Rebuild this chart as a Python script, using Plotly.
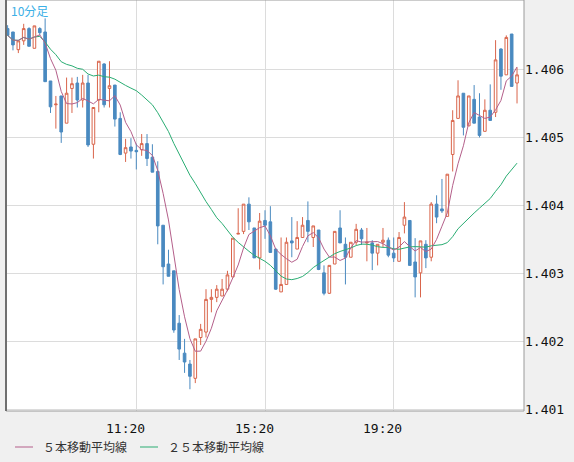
import plotly.graph_objects as go
import pandas as pd

open_ = [1.40660,1.40655,1.40629,1.40642,1.40660,1.40631,1.40660,1.40655,1.40583,1.40548,
         1.40561,1.40521,1.40572,1.40580,1.40555,1.40580,1.40490,1.40555,1.40608,1.40572,
         1.40577,1.40528,1.40477,1.40486,1.40481,1.40482,1.40491,1.40471,1.40450,1.40371,
         1.40314,1.40304,1.40227,1.40183,1.40167,1.40146,1.40206,1.40214,1.40262,1.40265,
         1.40267,1.40277,1.40295,1.40358,1.40362,1.40402,1.40367,1.40323,1.40378,1.40376,
         1.40336,1.40273,1.40284,1.40348,1.40336,1.40353,1.40378,1.40353,1.40364,1.40301,
         1.40271,1.40314,1.40367,1.40343,1.40324,1.40346,1.40364,1.40345,1.40345,1.40330,
         1.40346,1.40349,1.40330,1.40318,1.40371,1.40378,1.40317,1.40301,1.40343,1.40324,
         1.40402,1.40395,1.40384,1.40475,1.40528,1.40565,1.40517,1.40556,1.40530,1.40509,
         1.40540,1.40537,1.40630,1.40592,1.40652,1.40580]
high = [1.40665,1.40655,1.40642,1.40667,1.40662,1.40664,1.40662,1.40675,1.40583,1.40561,
        1.40561,1.40588,1.40588,1.40589,1.40592,1.40592,1.40544,1.40612,1.40609,1.40612,
        1.40577,1.40537,1.40498,1.40499,1.40491,1.40505,1.40505,1.40490,1.40465,1.40371,
        1.40335,1.40304,1.40239,1.40204,1.40173,1.40204,1.40226,1.40277,1.40277,1.40283,
        1.40292,1.40304,1.40352,1.40396,1.40402,1.40412,1.40367,1.40389,1.40393,1.40399,
        1.40336,1.40353,1.40353,1.40383,1.40377,1.40383,1.40406,1.40370,1.40364,1.40312,
        1.40312,1.40362,1.40393,1.40353,1.40346,1.40373,1.40367,1.40367,1.40349,1.40343,
        1.40367,1.40353,1.40353,1.40361,1.40405,1.40378,1.40352,1.40348,1.40349,1.40405,
        1.40415,1.40439,1.40446,1.40540,1.40584,1.40565,1.40561,1.40577,1.40565,1.40556,
        1.40578,1.40643,1.40631,1.40650,1.40652,1.40603]
low = [1.40650,1.40628,1.40624,1.40636,1.40634,1.40631,1.40650,1.40582,1.40536,1.40513,
       1.40492,1.40521,1.40536,1.40544,1.40544,1.40486,1.40469,1.40537,1.40544,1.40544,
       1.40516,1.40474,1.40464,1.40469,1.40453,1.40473,1.40458,1.40449,1.40343,1.40284,
       1.40296,1.40213,1.40173,1.40154,1.40130,1.40139,1.40195,1.40206,1.40243,1.40258,
       1.40267,1.40274,1.40295,1.40358,1.40358,1.40364,1.40323,1.40306,1.40351,1.40331,
       1.40276,1.40273,1.40284,1.40324,1.40336,1.40353,1.40346,1.40339,1.40305,1.40268,
       1.40270,1.40314,1.40345,1.40284,1.40324,1.40342,1.40342,1.40318,1.40305,1.40312,
       1.40339,1.40324,1.40317,1.40318,1.40359,1.40312,1.40265,1.40265,1.40308,1.40318,
       1.40374,1.40389,1.40384,1.40450,1.40528,1.40503,1.40517,1.40521,1.40500,1.40509,
       1.40525,1.40530,1.40570,1.40592,1.40575,1.40550]
close = [1.40650,1.40636,1.40642,1.40660,1.40634,1.40664,1.40654,1.40582,1.40545,1.40549,
         1.40508,1.40565,1.40579,1.40555,1.40580,1.40489,1.40544,1.40612,1.40548,1.40576,
         1.40527,1.40475,1.40485,1.40480,1.40479,1.40491,1.40469,1.40449,1.40370,1.40310,
         1.40296,1.40217,1.40189,1.40170,1.40149,1.40204,1.40218,1.40262,1.40265,1.40277,
         1.40277,1.40298,1.40352,1.40359,1.40402,1.40376,1.40323,1.40377,1.40371,1.40331,
         1.40277,1.40284,1.40346,1.40345,1.40353,1.40371,1.40362,1.40370,1.40306,1.40271,
         1.40312,1.40362,1.40345,1.40324,1.40346,1.40365,1.40351,1.40346,1.40330,1.40343,
         1.40349,1.40327,1.40323,1.40353,1.40383,1.40312,1.40295,1.40348,1.40323,1.40402,
         1.40383,1.40392,1.40446,1.40525,1.40561,1.40515,1.40561,1.40521,1.40503,1.40540,
         1.40525,1.40614,1.40590,1.40647,1.40575,1.40592]

x_tick_idx = [24, 48, 72]
x_tick_labels = ["11:20", "15:20", "19:20"]
y_ticks = [1.401, 1.402, 1.403, 1.404, 1.405, 1.406]

idx = list(range(len(close)))
s = pd.Series(close)
ma5 = s.rolling(5, min_periods=1).mean()
ma25 = s.rolling(25, min_periods=1).mean()

UP = "#d9654b"; DOWN = "#4a8ac0"; C5 = "#b45f8a"; C25 = "#2aad73"

fig = go.Figure()
fig.add_trace(go.Candlestick(
    x=idx, open=open_, high=high, low=low, close=close,
    increasing=dict(line=dict(color=UP, width=1), fillcolor="white"),
    decreasing=dict(line=dict(color=DOWN, width=1), fillcolor=DOWN),
    whiskerwidth=0, showlegend=False, hoverinfo="skip"))
fig.add_trace(go.Scatter(x=idx, y=ma25, mode="lines", line=dict(color=C25, width=1),
                         name="２５本移動平均線", showlegend=False))
fig.add_trace(go.Scatter(x=idx, y=ma5, mode="lines", line=dict(color=C5, width=1),
                         name="５本移動平均線", showlegend=False))

font = "DejaVu Sans Mono, monospace"
fig.update_layout(
    width=574, height=462, margin=dict(l=6, r=50, t=0, b=51),
    paper_bgcolor="#f0f0f0", plot_bgcolor="white",
    xaxis=dict(range=[-0.3, 96.3], tickvals=x_tick_idx, showticklabels=False,
               showgrid=True, gridcolor="#dcdcdc", gridwidth=1, zeroline=False,
               rangeslider=dict(visible=False), showline=False, fixedrange=True),
    yaxis=dict(range=[1.40098, 1.40702], side="right", tickvals=y_ticks,
               ticktext=[f"{v:.3f}" for v in y_ticks], tickfont=dict(family=font, size=13, color="#111"),
               showgrid=True, gridcolor="#dcdcdc", gridwidth=1, zeroline=False, ticks="", ticklen=0),
    showlegend=False,
)
fig.add_shape(type="rect", xref="paper", yref="paper", x0=0, x1=1, y0=0, y1=1,
              line=dict(color="#9a9a9a", width=1))
fig.add_shape(type="line", xref="paper", yref="paper", x0=0, x1=0, y0=0, y1=1,
              line=dict(color="#707070", width=2))
for t, lab in zip(x_tick_idx, x_tick_labels):
    fig.add_annotation(x=t - 2, y=-0.02, xref="x", yref="paper", text=lab, showarrow=False,
                       yanchor="top", font=dict(family=font, size=13, color="#111"))
fig.add_annotation(x=0.005, y=1.0, xref="paper", yref="paper", text="10分足", showarrow=False,
                   xanchor="left", yanchor="top", font=dict(family="Noto Sans CJK JP", size=12, color="#3bb0e6"))
for x0, col, lab in [(15, C5, "５本移動平均線"), (140, C25, "２５本移動平均線")]:
    fig.add_shape(type="line", xref="paper", yref="paper",
                  x0=(x0 - 6) / 518, x1=(x0 + 18 - 6) / 518, y0=-36 / 411, y1=-36 / 411,
                  line=dict(color=col, width=1))
    fig.add_annotation(x=(x0 + 26 - 6) / 518, y=-36 / 411, xref="paper", yref="paper", text=lab,
                       showarrow=False, xanchor="left", yanchor="middle",
                       font=dict(family="Noto Sans CJK JP", size=12, color="#333"))
fig.write_html("out.html", config={"displayModeBar": False},
               post_script="document.body.style.margin='0';document.body.style.overflow='hidden';")
